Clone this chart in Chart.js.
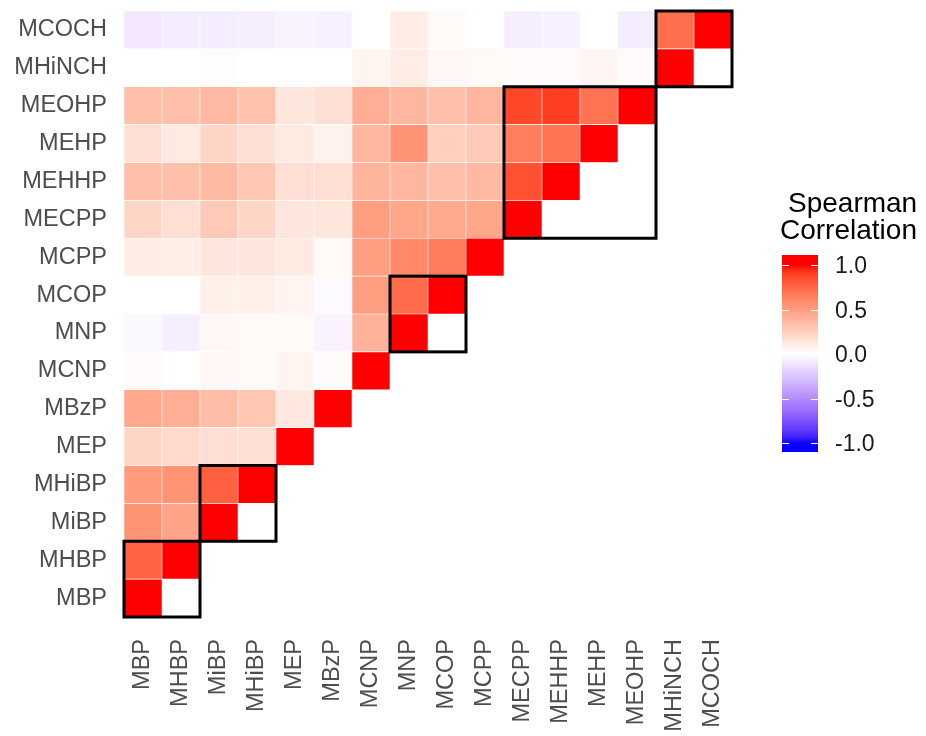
<!DOCTYPE html>
<html lang="en">
<head>
    <meta charset="UTF-8">
    <title>Spearman correlation heatmap</title>
    <script src="https://cdn.jsdelivr.net/npm/chart.js"></script>
    <style>
        html, body { margin: 0; padding: 0; background: #fff; }
        #wrap { width: 926px; height: 736px; }
    </style>
</head>
<body>
<div id="wrap"><canvas id="chart" width="926" height="736"></canvas></div>
<script>
    // variables, bottom row / left column first
    const vars = ['MBP', 'MHBP', 'MiBP', 'MHiBP', 'MEP', 'MBzP', 'MCNP', 'MNP',
        'MCOP', 'MCPP', 'MECPP', 'MEHHP', 'MEHP', 'MEOHP', 'MHiNCH', 'MCOCH'];

    // lower triangle, one row per variable (columns MBP .. itself)
    const rowMBP = [1];
    const rowMHBP = [0.77, 1];
    const rowMiBP = [0.55, 0.47, 1];
    const rowMHiBP = [0.52, 0.55, 0.78, 1];
    const rowMEP = [0.22, 0.2, 0.17, 0.17, 1];
    const rowMBzP = [0.45, 0.42, 0.35, 0.3, 0.12, 1];
    const rowMCNP = [0.02, 0.0, 0.04, 0.03, 0.06, 0.02, 1];
    const rowMNP = [-0.03, -0.07, 0.04, 0.03, 0.03, -0.05, 0.4, 1];
    const rowMCOP = [0.0, 0.0, 0.08, 0.08, 0.06, -0.02, 0.5, 0.73, 1];
    const rowMCPP = [0.1, 0.09, 0.13, 0.13, 0.11, 0.03, 0.5, 0.6, 0.66, 1];
    const rowMECPP = [0.22, 0.17, 0.28, 0.22, 0.13, 0.13, 0.5, 0.46, 0.44, 0.46, 1];
    const rowMEHHP = [0.34, 0.33, 0.36, 0.3, 0.17, 0.17, 0.39, 0.38, 0.33, 0.37, 0.84, 1];
    const rowMEHP = [0.17, 0.11, 0.22, 0.17, 0.11, 0.07, 0.38, 0.55, 0.25, 0.28, 0.65, 0.7, 1];
    const rowMEOHP = [0.34, 0.33, 0.37, 0.32, 0.13, 0.17, 0.42, 0.38, 0.33, 0.38, 0.87, 0.9, 0.7, 1];
    const rowMHiNCH = [0.0, 0.0, 0.01, 0.0, 0.0, 0.0, 0.06, 0.1, 0.04, 0.03, 0.02, 0.02, 0.05, 0.02, 1];
    const rowMCOCH = [-0.1, -0.08, -0.08, -0.07, -0.05, -0.06, 0.0, 0.1, 0.03, 0.0, -0.07, -0.06, 0.0, -0.08, 0.72, 1];

    const rows = [rowMBP, rowMHBP, rowMiBP, rowMHiBP, rowMEP, rowMBzP, rowMCNP, rowMNP,
        rowMCOP, rowMCPP, rowMECPP, rowMEHHP, rowMEHP, rowMEOHP, rowMHiNCH, rowMCOCH];

    // cluster boxes (first and last variable index)
    const boxFrom = [0, 2, 7, 10, 14];
    const boxTo = [1, 3, 8, 13, 15];

    const legendBreaks = [1, 0.5, 0, -0.5, -1];

    // --- blue / white / red in Lab space, like gradient2 ---
    function toLab(rgb) {
        const lin = rgb.map(v => { v /= 255; return v <= 0.04045 ? v / 12.92 : Math.pow((v + 0.055) / 1.055, 2.4); });
        let x = (lin[0] * 0.4124 + lin[1] * 0.3576 + lin[2] * 0.1805) / 0.95047;
        let y = (lin[0] * 0.2126 + lin[1] * 0.7152 + lin[2] * 0.0722);
        let z = (lin[0] * 0.0193 + lin[1] * 0.1192 + lin[2] * 0.9505) / 1.08883;
        const f = t => t > 0.008856 ? Math.cbrt(t) : 7.787 * t + 16 / 116;
        x = f(x); y = f(y); z = f(z);
        return [116 * y - 16, 500 * (x - y), 200 * (y - z)];
    }
    function fromLab(lab) {
        let y = (lab[0] + 16) / 116, x = lab[1] / 500 + y, z = y - lab[2] / 200;
        const g = t => t * t * t > 0.008856 ? t * t * t : (t - 16 / 116) / 7.787;
        x = g(x) * 0.95047; y = g(y); z = g(z) * 1.08883;
        const r = x * 3.2406 + y * -1.5372 + z * -0.4986;
        const gg = x * -0.9689 + y * 1.8758 + z * 0.0415;
        const b = x * 0.0557 + y * -0.2040 + z * 1.0570;
        return [r, gg, b].map(v => {
            v = v <= 0.0031308 ? 12.92 * v : 1.055 * Math.pow(v, 1 / 2.4) - 0.055;
            return Math.round(Math.max(0, Math.min(1, v)) * 255);
        });
    }
    const labWhite = toLab([255, 255, 255]);
    const labRed = toLab([255, 0, 0]);
    const labBlue = toLab([0, 0, 255]);
    function fillColor(v) {
        const end = v >= 0 ? labRed : labBlue;
        const t = Math.min(1, Math.abs(v));
        const c = fromLab(labWhite.map((w, i) => w + (end[i] - w) * t));
        return `rgb(${c[0]},${c[1]},${c[2]})`;
    }

    // one floating-bar dataset per row
    const datasets = rows.map((vals, r) => ({
        data: vars.map((_, c) => c <= r ? [r, r + 1] : null),
        backgroundColor: vars.map((_, c) => c <= r ? fillColor(vals[c]) : 'rgba(0,0,0,0)'),
        borderColor: '#ffffff',
        borderWidth: 0.6,
        borderSkipped: false,
        barPercentage: 1,
        categoryPercentage: 1,
        grouped: false
    }));

    const boxesPlugin = {
        id: 'boxes',
        afterDatasetsDraw(chart) {
            const { ctx, scales: { x, y } } = chart;
            const half = (x.getPixelForValue(1) - x.getPixelForValue(0)) / 2;
            ctx.save();
            ctx.strokeStyle = '#000';
            ctx.lineWidth = 3;
            boxFrom.forEach((s, i) => {
                const e = boxTo[i];
                const l = x.getPixelForValue(s) - half;
                const rr = x.getPixelForValue(e) + half;
                const t = y.getPixelForValue(e + 1);
                const b = y.getPixelForValue(s);
                ctx.strokeRect(l, t, rr - l, b - t);
            });
            ctx.restore();
        }
    };

    const colorbarPlugin = {
        id: 'colorbar',
        afterDraw(chart) {
            const ctx = chart.ctx;
            const left = 782, width = 36, top = 255, bottom = 452;
            const yTop = 265, yBottom = 443; // positions of +1 and -1
            const yOf = v => yTop + (1 - v) / 2 * (yBottom - yTop);
            ctx.save();
            const grad = ctx.createLinearGradient(0, top, 0, bottom);
            for (let i = 0; i <= 40; i++) {
                const py = top + (bottom - top) * i / 40;
                let v = 1 - (py - yTop) / (yBottom - yTop) * 2;
                v = Math.max(-1, Math.min(1, v));
                grad.addColorStop(i / 40, fillColor(v));
            }
            ctx.fillStyle = grad;
            ctx.fillRect(left, top, width, bottom - top);

            ctx.strokeStyle = '#ffffff';
            ctx.lineWidth = 1;
            ctx.fillStyle = '#1a1a1a';
            ctx.font = '23px "Liberation Sans", Arial, sans-serif';
            ctx.textBaseline = 'middle';
            ctx.textAlign = 'left';
            legendBreaks.forEach(v => {
                const py = Math.round(yOf(v)) + 0.5;
                ctx.beginPath();
                ctx.moveTo(left, py); ctx.lineTo(left + 7, py);
                ctx.moveTo(left + width - 7, py); ctx.lineTo(left + width, py);
                ctx.stroke();
                ctx.fillText(v.toFixed(1), 835, py + 1);
            });

            ctx.fillStyle = '#000';
            ctx.font = '28px "Liberation Sans", Arial, sans-serif';
            ctx.textBaseline = 'alphabetic';
            ctx.fillText('Spearman', 788, 212);
            ctx.fillText('Correlation', 780, 239);
            ctx.restore();
        }
    };

    const tickFont = { family: '"Liberation Sans", Arial, sans-serif', size: 23.5 };

    new Chart(document.getElementById('chart'), {
        type: 'bar',
        data: { labels: vars, datasets: datasets },
        options: {
            responsive: false,
            animation: false,
            layout: { padding: { top: 11, right: 194, left: 0, bottom: 0 } },
            plugins: {
                legend: { display: false },
                tooltip: { enabled: false }
            },
            scales: {
                x: {
                    type: 'category',
                    grid: { display: false, drawTicks: false },
                    border: { display: false },
                    ticks: {
                        color: '#4d4d4d',
                        font: tickFont,
                        minRotation: 90,
                        maxRotation: 90,
                        autoSkip: false,
                        padding: 22
                    },
                    afterFit(axis) {
                        axis.height = 119;
                        axis.paddingLeft = 0;
                        axis.paddingRight = 0;
                    }
                },
                y: {
                    type: 'linear',
                    min: 0,
                    max: 16,
                    grid: { display: false, drawTicks: false },
                    border: { display: false },
                    afterBuildTicks(axis) {
                        axis.ticks = vars.map((_, i) => ({ value: i + 0.5 }));
                    },
                    ticks: {
                        color: '#4d4d4d',
                        font: tickFont,
                        autoSkip: false,
                        padding: 17,
                        callback: (value, index) => vars[index]
                    },
                    afterFit(axis) {
                        axis.width = 124;
                        axis.paddingTop = 0;
                        axis.paddingBottom = 0;
                    }
                }
            }
        },
        plugins: [boxesPlugin, colorbarPlugin]
    });
</script>
</body>
</html>
